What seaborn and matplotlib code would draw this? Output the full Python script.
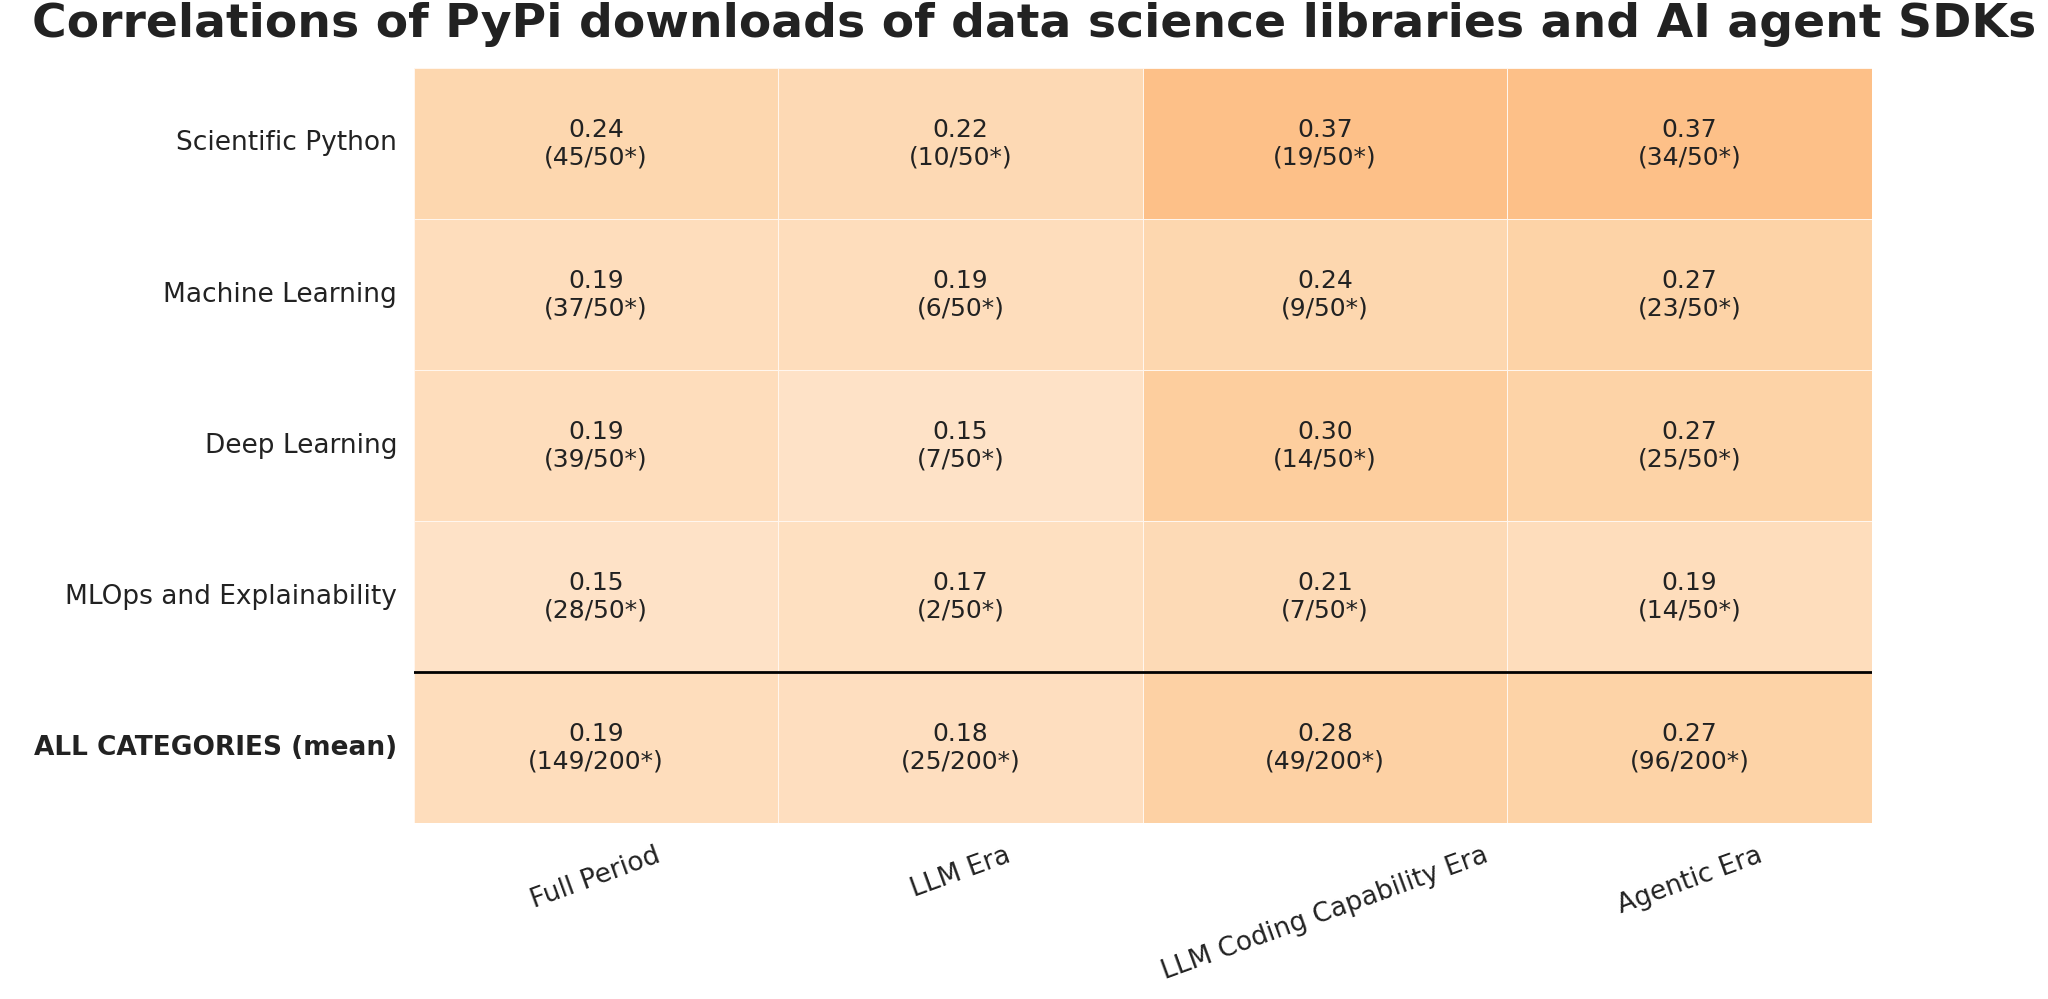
import matplotlib
matplotlib.use("Agg")
import matplotlib.pyplot as plt
import seaborn as sns
import numpy as np
import pandas as pd

rows = ["Scientific Python", "Machine Learning", "Deep Learning", "MLOps and Explainability", "ALL CATEGORIES (mean)"]
cols = ["Full Period", "LLM Era", "LLM Coding Capability Era", "Agentic Era"]
corr = [[0.24, 0.22, 0.37, 0.37],
        [0.19, 0.19, 0.24, 0.27],
        [0.19, 0.15, 0.30, 0.27],
        [0.15, 0.17, 0.21, 0.19],
        [0.19, 0.18, 0.28, 0.27]]
sig = [["45/50*", "10/50*", "19/50*", "34/50*"],
       ["37/50*", "6/50*", "9/50*", "23/50*"],
       ["39/50*", "7/50*", "14/50*", "25/50*"],
       ["28/50*", "2/50*", "7/50*", "14/50*"],
       ["149/200*", "25/200*", "49/200*", "96/200*"]]

df = pd.DataFrame(corr, index=rows, columns=cols)
annot = np.array([[f"{corr[i][j]:.2f}\n({sig[i][j]})" for j in range(4)] for i in range(5)])

fig = plt.figure(figsize=(20.48, 9.99), dpi=100)
ax = fig.add_axes([0.202, 0.176, 0.712, 0.756])
sns.heatmap(df, ax=ax, cmap="Oranges", vmin=-0.05, vmax=1.3, annot=annot, fmt="",
            annot_kws={"fontsize": 18, "color": "#222222"}, linewidths=0.6, linecolor="#fff6ee",
            cbar=False)
ax.axhline(4, color="black", lw=2)
ax.tick_params(length=0)
ax.set_yticklabels(rows, rotation=0, fontsize=19, color="#222222")
ax.get_yticklabels()[-1].set_fontweight("bold")
ax.set_xticklabels(cols, rotation=20, fontsize=19, color="#222222")
ax.tick_params(axis="x", pad=14)
ax.tick_params(axis="y", pad=12)
fig.suptitle("Correlations of PyPi downloads of data science libraries and AI agent SDKs",
             fontsize=34, fontweight="bold", x=0.505, y=0.998, color="#222222")
fig.savefig("out.png", dpi=100)
